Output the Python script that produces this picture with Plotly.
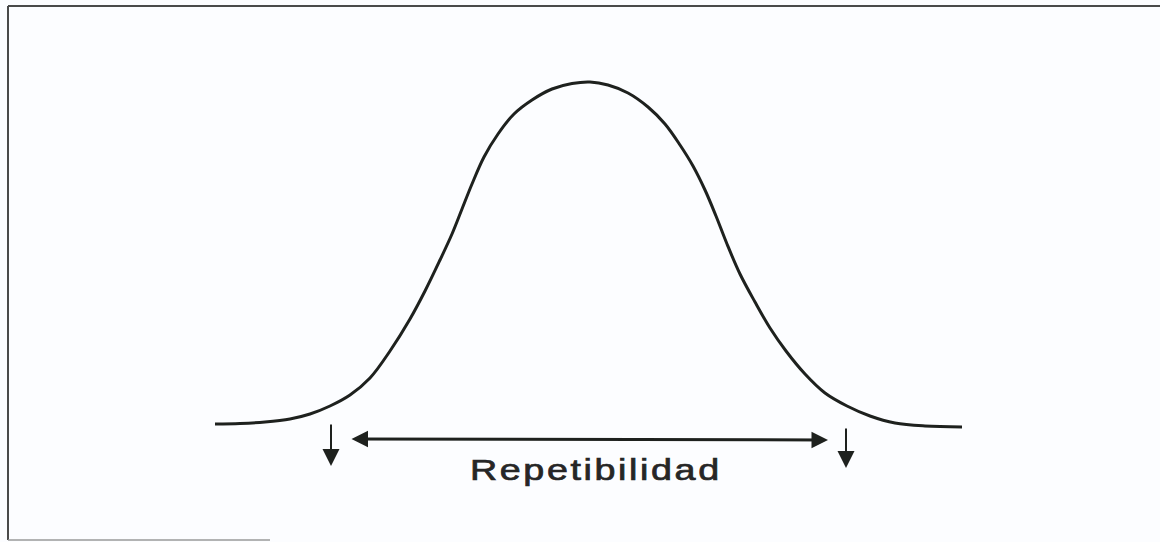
import plotly.graph_objects as go

# Bell curve (x in px, y in px from top)
curve_x = [215, 240, 265, 290, 310, 330, 350, 370, 390, 410, 425, 440, 452, 462, 472, 484,
           498, 514, 532, 552, 572, 590, 608, 628, 648, 665, 680, 693, 705, 716, 727, 740,
           755, 770, 786, 805, 825, 847, 870, 895, 925, 962]
curve_y = [424, 423.5, 422, 419, 414, 406, 395, 378, 351, 319, 291, 260, 234, 209, 184, 157,
           134, 114, 100, 89, 83.5, 82, 85, 93, 107, 124, 145, 166, 190, 216, 244, 274,
           302, 328, 351, 374, 393, 406, 416, 423, 426, 427]

# Arrow markers
down_arrow_x = [331, 846]
down_arrow_top = [423, 427]
down_arrow_tip = [466, 468]
span_x = [350, 828]
span_y = [439, 440]

label_text = "Repetibilidad"
label_x = 596
label_y = 470

W, H = 1160, 542
INK = "#1e211e"

fig = go.Figure()
fig.add_trace(go.Scatter(x=curve_x, y=curve_y, mode="lines",
                         line=dict(color=INK, width=3, shape="spline", smoothing=1.0),
                         hoverinfo="skip", showlegend=False))

annotations = []
for xv, y0, y1 in zip(down_arrow_x, down_arrow_top, down_arrow_tip):
    annotations.append(dict(x=xv, y=y1, ax=xv, ay=y0, xref="x", yref="y", axref="x", ayref="y",
                            text="", showarrow=True, arrowhead=2, arrowsize=1.7, arrowwidth=2,
                            arrowcolor=INK, standoff=0, startstandoff=0))
annotations.append(dict(x=span_x[1], y=span_y[1], ax=span_x[0], ay=span_y[0],
                        xref="x", yref="y", axref="x", ayref="y", text="", showarrow=True,
                        arrowside="end+start", arrowhead=2, startarrowhead=2,
                        arrowsize=1.1, startarrowsize=1.1, arrowwidth=3,
                        arrowcolor=INK, standoff=0, startstandoff=0))
annotations.append(dict(x=label_x, y=label_y, xref="x", yref="y", text=label_text,
                        showarrow=False, xanchor="center", yanchor="middle",
                        font=dict(family="Liberation Sans, Arial, sans-serif", size=29, color="#262626")))

border = "#4a4a4a"
shapes = [
    dict(type="line", xref="paper", yref="paper", x0=8 / W, x1=8 / W, y0=1 - 6 / H, y1=1 - 540 / H,
         line=dict(color=border, width=2)),
    dict(type="line", xref="paper", yref="paper", x0=8 / W, x1=1, y0=1 - 6 / H, y1=1 - 6 / H,
         line=dict(color=border, width=2)),
    dict(type="line", xref="paper", yref="paper", x0=8 / W, x1=270 / W, y0=1 - 540 / H, y1=1 - 540 / H,
         line=dict(color="#9a9a9a", width=1.5)),
]

fig.update_layout(
    width=W, height=H, margin=dict(l=0, r=0, t=0, b=0),
    paper_bgcolor="#fcfdff", plot_bgcolor="#fcfdff",
    xaxis=dict(range=[0, W], visible=False, fixedrange=True),
    yaxis=dict(range=[H, 0], visible=False, fixedrange=True),
    annotations=annotations, shapes=shapes, showlegend=False,
)

post = """
document.body.style.margin = '0';
document.body.style.background = '#fcfdff';
var ts = document.querySelectorAll('.annotation-text');
ts.forEach(function(t){
  t.setAttribute('letter-spacing', '2px');
  t.style.transformBox = 'fill-box';
  t.style.transformOrigin = 'center';
  t.style.transform = 'scaleX(1.3)';
  t.style.stroke = '#262626';
  t.style.strokeWidth = '0.7px';
});
"""
fig.write_html("out.html", config={"displayModeBar": False}, post_script=post)
